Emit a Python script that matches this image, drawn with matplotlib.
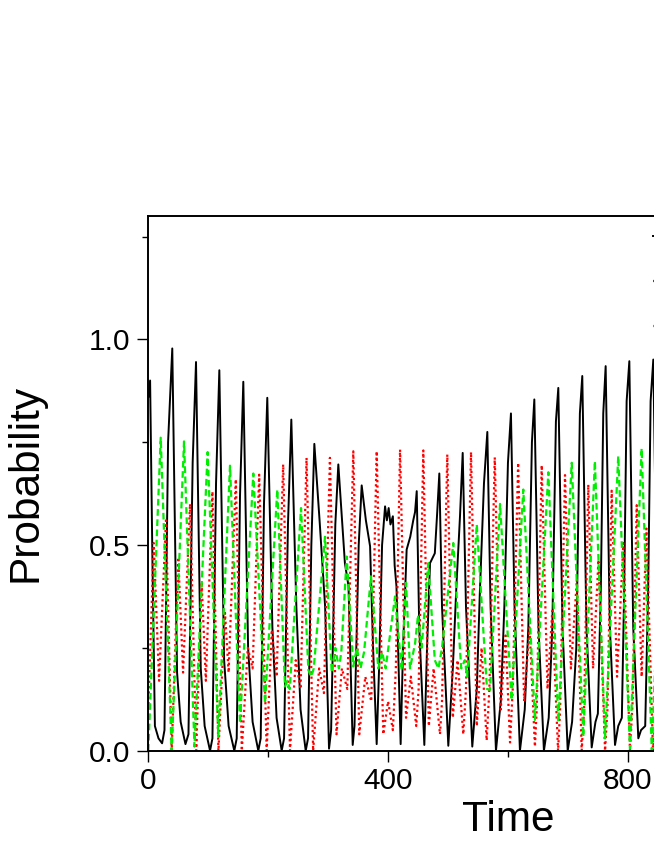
import matplotlib
matplotlib.use("Agg")
import matplotlib.pyplot as plt

plt.rcParams['font.family'] = ['Liberation Sans', 'DejaVu Sans']

# values (time, probability) at turning points
black_t = [0, 3, 7, 11, 17, 23, 27, 33, 40, 48, 54, 62, 67, 74, 79.6, 87.5, 94, 103,
           107, 113, 118.5, 126.5, 134, 143.5, 147.5, 153, 158.5, 166.5, 174, 183.5,
           187.5, 193, 198.5, 207, 214, 222.5, 226.5, 233, 238.6, 247, 254, 262.6,
           266.5, 272, 277, 286, 295, 301.5, 305, 312, 317, 328, 334, 341, 344, 351,
           356, 363, 370, 375, 381, 385, 390, 395, 398, 401, 404, 408, 411, 414, 421,
           425, 431, 437, 442, 445, 447.8, 452, 460.5, 465, 470, 478, 482, 485.5, 490,
           500.5, 508, 514, 520, 524.5, 530, 540.5, 548, 553, 560, 565.6, 571, 580,
           588, 594, 600, 605, 611, 620, 628, 634, 640, 644, 651, 660, 668, 674, 680,
           684, 691, 699.7, 707, 714, 720, 724, 731, 739.7, 746, 750, 755, 759, 763,
           770, 778.6, 784, 790, 794, 798, 802.5, 809, 817.5, 822, 829, 834, 838,
           842.5, 849, 857, 862]
black_p = [0.86, 0.90, 0.45, 0.06, 0.03, 0.018, 0.05, 0.75, 0.978, 0.19, 0.07, 0.016,
           0.04, 0.70, 0.945, 0.20, 0.06, 0.0, 0.03, 0.65, 0.925, 0.22, 0.06, 0.0,
           0.03, 0.62, 0.897, 0.25, 0.07, 0.0, 0.03, 0.60, 0.858, 0.30, 0.08, 0.0,
           0.03, 0.55, 0.805, 0.35, 0.10, 0.0, 0.03, 0.50, 0.746, 0.554, 0.35, 0.005,
           0.05, 0.55, 0.696, 0.456, 0.40, 0.014, 0.06, 0.50, 0.645, 0.56, 0.497, 0.25,
           0.016, 0.20, 0.50, 0.594, 0.56, 0.59, 0.55, 0.57, 0.45, 0.40, 0.016, 0.25,
           0.489, 0.52, 0.56, 0.58, 0.631, 0.30, 0.014, 0.25, 0.456, 0.48, 0.58, 0.674,
           0.35, 0.012, 0.20, 0.40, 0.57, 0.724, 0.35, 0.01, 0.15, 0.38, 0.65, 0.775,
           0.35, 0.0, 0.12, 0.35, 0.70, 0.82, 0.35, 0.0, 0.10, 0.30, 0.75, 0.854, 0.30,
           0.0, 0.08, 0.30, 0.80, 0.882, 0.30, 0.0, 0.07, 0.25, 0.82, 0.911, 0.30,
           0.008, 0.07, 0.09, 0.40, 0.82, 0.935, 0.30, 0.014, 0.06, 0.08, 0.40, 0.85,
           0.947, 0.30, 0.03, 0.05, 0.06, 0.40, 0.85, 0.951, 0.30, 0.03, 0.05]

red_t = [0, 9, 18, 29.5, 39, 50, 58, 69.6, 80, 89, 96, 107, 117, 128, 134, 146, 156,
         166, 174, 185, 197.5, 206, 214, 225, 236.4, 246, 254, 264, 275, 285, 293, 303,
         314, 323, 332, 342, 352, 362, 372, 381, 392, 400, 408, 413, 420, 430, 438, 447,
         451, 458.8, 468, 476, 486.6, 490, 498.8, 508, 516, 525.5, 530, 538.4, 548, 556,
         564.5, 569, 578, 588, 596, 603.5, 608, 617, 627, 636, 645, 648, 656.3, 666,
         674, 683.6, 687, 695.2, 705, 715, 723, 727, 734, 742, 751, 762, 766, 773, 782,
         792.5, 803.6, 808, 814.8, 823, 831, 842, 848, 855, 862]
red_p = [0.10, 0.505, 0.17, 0.56, 0.0, 0.47, 0.19, 0.60, 0.0, 0.41, 0.17, 0.63, 0.0,
         0.335, 0.19, 0.66, 0.0, 0.25, 0.20, 0.671, 0.0, 0.294, 0.18, 0.696, 0.0, 0.22,
         0.15, 0.712, 0.0, 0.20, 0.14, 0.712, 0.04, 0.20, 0.15, 0.728, 0.04, 0.18, 0.12,
         0.728, 0.04, 0.12, 0.05, 0.20, 0.732, 0.08, 0.18, 0.06, 0.15, 0.73, 0.06, 0.20,
         0.04, 0.12, 0.72, 0.08, 0.22, 0.04, 0.15, 0.726, 0.06, 0.25, 0.025, 0.15, 0.713,
         0.10, 0.28, 0.02, 0.15, 0.70, 0.12, 0.30, 0.01, 0.10, 0.694, 0.15, 0.34, 0.0,
         0.10, 0.67, 0.20, 0.415, 0.0, 0.10, 0.647, 0.20, 0.464, 0.0, 0.10, 0.632, 0.18,
         0.505, 0.0, 0.12, 0.597, 0.18, 0.54, 0.0, 0.12, 0.56, 0.20]

green_t = [0, 20.7, 39, 59.6, 77, 99, 116.8, 136.3, 153, 175.2, 194.7, 215.2, 228,
           232, 236, 254.8, 267, 272, 276, 294.8, 306, 312, 318, 322, 331, 342, 348,
           354, 360, 371.5, 383.7, 390, 396, 411.6, 422.7, 430, 436.6, 445, 450, 456,
           467, 478, 484, 490, 508.8, 522, 528, 532, 548, 565, 570, 586.8, 606, 625.6,
           645, 667.4, 684, 706.4, 725.7, 745, 762, 784, 803.6, 823, 840, 860]
green_p = [0.0, 0.761, 0.0, 0.752, 0.01, 0.726, 0.035, 0.693, 0.067, 0.674, 0.115,
           0.635, 0.156, 0.17, 0.15, 0.59, 0.196, 0.18, 0.20, 0.52, 0.19, 0.25, 0.20,
           0.24, 0.472, 0.205, 0.25, 0.20, 0.24, 0.424, 0.20, 0.24, 0.20, 0.375, 0.196,
           0.408, 0.20, 0.26, 0.33, 0.25, 0.456, 0.22, 0.20, 0.25, 0.505, 0.20, 0.22,
           0.18, 0.55, 0.15, 0.148, 0.60, 0.123, 0.635, 0.075, 0.677, 0.07, 0.70, 0.034,
           0.704, 0.03, 0.716, 0.005, 0.735, 0.0, 0.74]

fig = plt.figure(figsize=(6.54, 8.46), dpi=100)
ax = fig.add_axes([148.3 / 654, 1 - 750.7 / 846, 719.3 / 654, 534.7 / 846])

l1, = ax.plot(black_t, black_p, color='black', lw=1.4)
l2, = ax.plot(red_t, red_p, color='#ff0000', lw=1.6, ls=(0, (1, 1.4)))
l3, = ax.plot(green_t, green_p, color='#00ee00', lw=1.6, ls=(0, (3, 1.6)))

ax.set_xlim(0, 1200)
ax.set_ylim(0, 1.3)
ax.set_xticks([0, 400, 800])
ax.set_xticks([200, 600], minor=True)
ax.set_yticks([0.0, 0.5, 1.0])
ax.set_yticks([0.25, 0.75, 1.25], minor=True)
ax.set_yticklabels(['0.0', '0.5', '1.0'])

for s in ax.spines.values():
    s.set_linewidth(1.4)
ax.spines['right'].set_visible(False)

ax.tick_params(which='both', direction='out', top=False, right=False, width=1.0)
ax.tick_params(which='major', length=8, labelsize=21.5)
ax.tick_params(which='minor', length=4.3)
ax.tick_params(axis='x', which='major', pad=4)
ax.tick_params(axis='y', which='major', pad=4.8)

ax.set_xlabel('Time', fontsize=30.5)
ax.set_ylabel('Probability', fontsize=30.5)
ax.xaxis.set_label_coords(0.5, -0.092)
ax.yaxis.set_label_coords(-0.1436, 0.5)

ax.legend([l1, l2, l3], ['', '', ''], loc='upper left', frameon=False,
          bbox_to_anchor=(653 / 654, 1 - 226 / 846), bbox_transform=fig.transFigure,
          borderpad=0, borderaxespad=0, handlelength=2, fontsize=20, labelspacing=0.68)

fig.savefig('out.png', dpi=100)
